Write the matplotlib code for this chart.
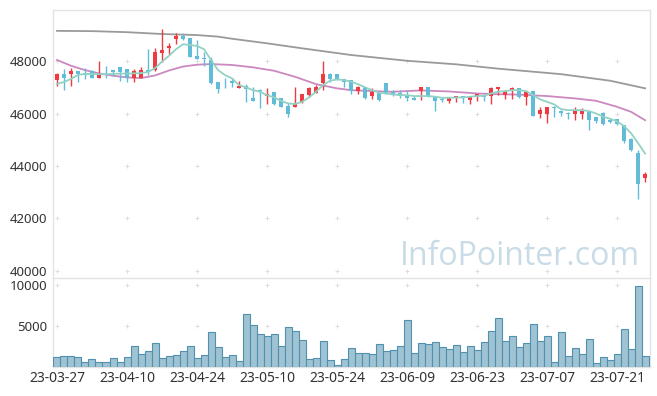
import numpy as np
import matplotlib
matplotlib.use('Agg')
import matplotlib.pyplot as plt

# daily candles
opens = [47280, 47520, 47520, 47620, 47530, 47620, 47360, 47480, 47660, 47770,
         47690, 47360, 47360, 47640, 47640, 48320, 48480, 48850, 48960, 48870,
         48190, 48120, 48040, 47210, 47220, 47240, 46990, 47050, 46600, 46880,
         46680, 46820, 46575, 46290, 46260, 46420, 46700, 46800, 47160, 47500,
         47500, 47320, 47275, 46840, 47000, 46670, 46765, 47160, 46820, 46770,
         46700, 46600, 46860, 47000, 46670, 46550, 46490, 46580, 46665, 46510,
         46640, 46700, 46650, 46940, 46720, 46870, 46960, 46640, 46850, 45975,
         45975, 46240, 46100, 46010, 45980, 45980, 46065, 45870, 46025, 45750,
         45800, 45555, 45045, 44480, 43530]
highs = [47530, 47700, 47720, 47630, 47750, 47640, 48000, 47810, 47670, 47780,
         47700, 47680, 47780, 48460, 48490, 49210, 48680, 49050, 49080, 48870,
         48820, 48330, 48160, 47220, 47340, 47340, 47230, 47110, 47000, 46920,
         46960, 46830, 46590, 46390, 47000, 46740, 47000, 47080, 48000, 47550,
         47510, 47330, 47290, 47040, 47010, 46980, 46775, 47170, 46890, 46890,
         46860, 46660, 47010, 47010, 46680, 46620, 46610, 46680, 46680, 46680,
         46740, 46710, 47000, 47020, 46900, 47020, 46970, 46860, 46860, 46230,
         46240, 46280, 46140, 46070, 46230, 46220, 46080, 45880, 46040, 45800,
         45810, 45560, 45060, 44600, 43770]
lows = [47050, 46880, 47030, 47200, 47330, 47350, 47340, 47340, 47440, 47250,
        47220, 47190, 47350, 47450, 47620, 47980, 48280, 48650, 48800, 48150,
        48070, 47820, 47120, 46800, 46960, 47000, 46960, 46420, 46480, 46220,
        46360, 46340, 46240, 45880, 46250, 46410, 46620, 46790, 46890, 47210,
        47280, 47010, 46740, 46740, 46570, 46570, 46470, 46730, 46660, 46610,
        46490, 46510, 46520, 46630, 46090, 46420, 46390, 46420, 46390, 46350,
        46490, 46490, 46350, 46720, 46540, 46540, 46610, 46340, 45900, 45840,
        45620, 45870, 45910, 45790, 45760, 45810, 45390, 45620, 45580, 45620,
        45560, 44880, 44560, 42730, 43400]
closes = [47500, 47360, 47620, 47500, 47450, 47360, 47470, 47460, 47590, 47590,
          47360, 47620, 47660, 47600, 48330, 48430, 48590, 48960, 48840, 48165,
          48075, 48090, 47180, 46930, 47190, 47150, 47050, 46930, 46490, 46850,
          46750, 46370, 46260, 45990, 46385, 46730, 46960, 47020, 47500, 47310,
          47310, 47215, 46840, 47010, 46580, 46830, 46520, 46780, 46720, 46670,
          46580, 46520, 47000, 46680, 46490, 46530, 46600, 46665, 46580, 46665,
          46730, 46640, 46970, 47000, 46840, 46980, 46640, 46810, 45910, 46140,
          46230, 46210, 46010, 45990, 46090, 46090, 45750, 45710, 45600, 45660,
          45590, 44960, 44600, 43320, 43700]
volumes = [1180, 1340, 1340, 1180, 570, 940, 570, 570, 1060, 570,
           1180, 2600, 1550, 1950, 2890, 1060, 1300, 1420, 1950, 2600,
           1060, 1420, 4230, 2400, 1180, 1420, 730, 6430, 5080, 3990,
           3780, 3990, 2520, 4840, 4350, 3250, 940, 1060, 3130, 850,
           240, 940, 2280, 1670, 1670, 1550, 2770, 1950, 2070, 2560,
           5730, 1710, 2930, 2810, 3050, 2400, 2200, 2640, 1790, 2560,
           2070, 3050, 4350, 5940, 3170, 3740, 2400, 2890, 5250, 3170,
           3740, 610, 4270, 1300, 2280, 1545, 3370, 450, 1180, 850,
           1545, 4600, 2200, 9880, 1300]

# moving average lines
ma_short = [47130, 47200, 47320, 47470, 47510, 47510, 47500, 47500, 47510, 47520,
            47520, 47530, 47540, 47580, 47730, 47975, 48200, 48450, 48640, 48610,
            48575, 48450, 48040, 47655, 47465, 47340, 47080, 47000, 46890, 46830,
            46700, 46615, 46485, 46385, 46360, 46445, 46615, 46830, 47080, 47250,
            47300, 47275, 47210, 47120, 47000, 46890, 46790, 46765, 46730, 46700,
            46700, 46665, 46665, 46665, 46640, 46600, 46600, 46610, 46610, 46640,
            46665, 46675, 46765, 46830, 46855, 46890, 46890, 46855, 46700, 46540,
            46445, 46350, 46165, 46130, 46130, 46130, 46090, 46000, 45880, 45800,
            45700, 45520, 45250, 44870, 44475]
ma_mid_idx = [0, 2, 4, 6, 8, 10, 12, 14, 16, 18, 20, 22, 25, 28, 31, 34, 37, 40,
              42, 45, 48, 52, 56, 60, 63, 66, 70, 74, 77, 80, 82, 84]
ma_mid = [48040, 47820, 47655, 47530, 47440, 47375, 47350, 47450, 47640, 47790,
          47860, 47885, 47850, 47760, 47630, 47400, 47120, 46960, 46890, 46855,
          46830, 46880, 46840, 46765, 46735, 46720, 46665, 46575, 46485, 46255,
          46065, 45745]
ma_long_idx = [0, 5, 10, 15, 20, 23, 25, 30, 35, 42, 50, 57, 63, 72, 79, 84]
ma_long = [49150, 49140, 49100, 49030, 48990, 48930, 48850, 48675, 48485, 48230,
           48010, 47875, 47710, 47500, 47250, 46960]

date_labels = ['23-03-27', '23-04-10', '23-04-24', '23-05-10', '23-05-24',
               '23-06-09', '23-06-23', '23-07-07', '23-07-21']
price_ticks = [40000, 42000, 44000, 46000, 48000]
volume_ticks = [5000, 10000]

plt.rcParams['font.family'] = ['Noto Sans', 'DejaVu Sans']

W, H = 657, 396
fig = plt.figure(figsize=(W / 100, H / 100), dpi=100)
left, right = 53 / W, 650 / W
ax = fig.add_axes([left, 1 - 277 / H, right - left, (277 - 10) / H])
axv = fig.add_axes([left, 1 - 367 / H, right - left, (367 - 278) / H])

up_c = '#ee3a40'
down_c = '#62bcd8'
x = np.arange(len(opens))
o = np.array(opens); c = np.array(closes)
cols = [up_c if cc >= oo else down_c for oo, cc in zip(o, c)]
body_lo = np.minimum(o, c)
body_h = np.maximum(np.abs(c - o), 25)

ax.vlines(x, lows, highs, colors=cols, linewidth=1.0, zorder=3)
ax.bar(x, body_h, bottom=body_lo, width=0.68, color=cols, zorder=4)

ax.plot(ma_long_idx, ma_long, color='#9a9a9a', lw=1.3, zorder=2)
ax.plot(ma_mid_idx, ma_mid, color='#cc88c0', lw=1.3, zorder=2)
ax.plot(x, ma_short, color='#92d2c4', lw=1.3, zorder=5)

axv.bar(x, volumes, width=1.0, color='#9fc3d2', edgecolor='#5290b0',
        linewidth=0.8, zorder=3)

xt = list(range(0, 81, 10))
for a, yt, ylim in [(ax, price_ticks, (39770, 49945)), (axv, volume_ticks, (0, 10850))]:
    a.set_xlim(-0.57, 84.7)
    a.set_ylim(*ylim)
    a.set_yticks(yt)
    a.set_yticklabels([str(v) for v in yt])
    a.set_xticks(xt)
    gx, gy = np.meshgrid(xt, yt)
    a.scatter(gx.ravel(), gy.ravel(), marker='+', s=12, color='#dedede',
              linewidths=0.7, zorder=1)
    for s in a.spines.values():
        s.set_color('#e3e3e3')
        s.set_linewidth(1.0)
    a.tick_params(length=0, labelsize=9.5, colors='#333333', pad=4)

ax.spines['bottom'].set_visible(False)
ax.set_xticklabels([])
axv.set_xticklabels(date_labels)
axv.tick_params(axis='x', pad=3, labelsize=10)

fig.text(640 / W, 1 - 265 / H, 'InfoPointer.com', ha='right', va='baseline',
         fontsize=23, color='#c9dbe6', family=['Open Sans', 'DejaVu Sans'])

fig.savefig('out.png', dpi=100)
